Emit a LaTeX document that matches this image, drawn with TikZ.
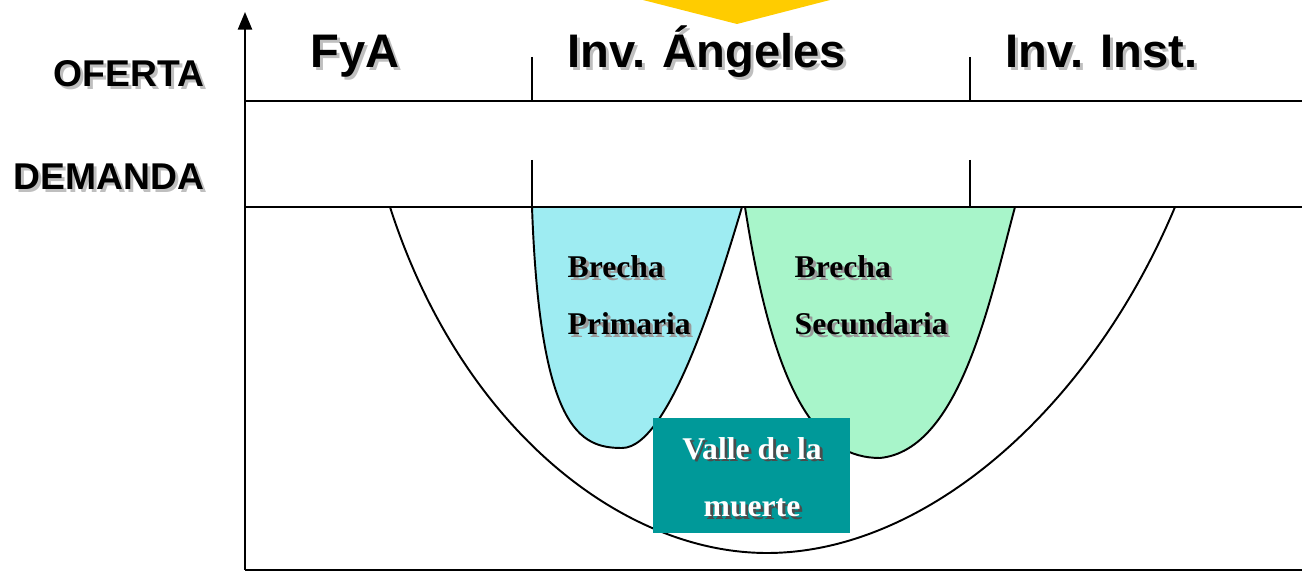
\documentclass[tikz,border=0pt]{standalone}
\usepackage{fontspec}
\setmainfont{Liberation Serif}
\setsansfont{Liberation Sans}
\usetikzlibrary{arrows.meta}

\definecolor{gold}{RGB}{255,204,0}
\definecolor{brechaA}{RGB}{158,236,242}
\definecolor{brechaB}{RGB}{168,245,202}
\definecolor{valle}{RGB}{0,153,153}

% text with a small drop shadow
\newcommand\shad[2][black!25]{\makebox[0pt][l]{\kern0.8pt\raisebox{-0.8pt}{\color{#1}#2}}#2}

\tikzset{
  fase/.style={anchor=base west,inner sep=0,font=\sffamily\bfseries\fontsize{13.4}{15}\selectfont},
  lado/.style={anchor=base east,inner sep=0,font=\sffamily\bfseries\fontsize{10.6}{12}\selectfont},
  brecha/.style={anchor=base west,inner sep=0,font=\bfseries\fontsize{9}{11}\selectfont},
  curva/.style={line width=0.55pt}
}

\begin{document}
\begin{tikzpicture}[x=0.01cm,y=-0.01cm]
    \useasboundingbox (0,0) rectangle (1302,576);

    % yellow arrow tip, cut at the top
    \fill[gold](643,0)--(830,0)--(737,24)--cycle;

    % axis and rows
    \draw[-{Triangle[length=5pt,width=4pt]},line width=0.6pt](245,570)--(245,12);
    \draw[line width=0.6pt](245,101)--(1302,101);
    \draw[line width=0.6pt](245,207)--(1302,207);
    \draw[line width=0.6pt](245,570)--(1302,570);
    \draw[line width=0.45pt](532,57)--(532,101) (532,160)--(532,207);
    \draw[line width=0.45pt](970,57)--(970,101) (970,160)--(970,207);

    \node[lado](of)at(205,87){\shad{OFERTA}};
    \node[lado](de)at(205,190){\shad{DEMANDA}};
    \node[fase](fya)at(310,68){\shad{FyA}};
    \node[fase](ang)at(567,68){\shad{Inv. Ángeles}};
    \node[fase](ins)at(1005,68){\shad{Inv. Inst.}};

    % big valley
    \draw[curva](390,207)..controls(460,425)and(620,553)..(767,553)
                ..controls(925,553)and(1090,410)..(1175,207);

    % gaps
    \draw[curva,fill=brechaA](532,207)..controls(540,430)and(580,448)..(622,448)
                ..controls(670,448)and(720,280)..(742,207)--cycle;
    \draw[curva,fill=brechaB](745,207)..controls(775,400)and(820,458)..(880,458)
                ..controls(960,450)and(990,300)..(1015,207)--cycle;
    \draw[line width=0.6pt](532,207)--(1015,207);

    \node[brecha](bp1)at(567,278){\shad[black!40]{Brecha}};
    \node[brecha](bp2)at(567,335){\shad[black!40]{Primaria}};
    \node[brecha](bs1)at(794,278){\shad[black!40]{Brecha}};
    \node[brecha](bs2)at(794,335){\shad[black!40]{Secundaria}};

    % death valley box
    \fill[valle](653,418)rectangle(850,533);
    \node[brecha,anchor=base,text=white](vm1)at(752,459){\shad[black!70]{Valle de la}};
    \node[brecha,anchor=base,text=white](vm2)at(752,517){\shad[black!70]{muerte}};
\end{tikzpicture}
\end{document}
